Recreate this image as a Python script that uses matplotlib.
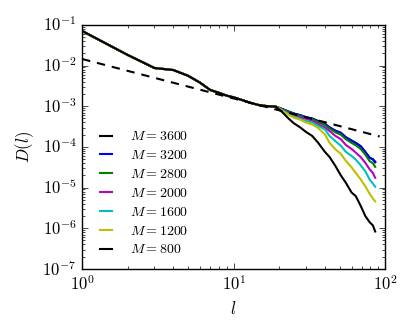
import numpy as np
import matplotlib
matplotlib.use("Agg")
import matplotlib.pyplot as plt
from matplotlib.ticker import LogFormatterMathtext

plt.style.use("classic")
plt.rcParams["mathtext.fontset"] = "cm"
plt.rcParams["font.family"] = "serif"
plt.rcParams["font.serif"] = ["cmr10", "DejaVu Serif"]
plt.rcParams["axes.formatter.use_mathtext"] = True

# separation l
l_vals = [1, 2, 3, 4, 5, 6, 7, 8, 9, 10, 11, 13, 15, 17, 19,
          21, 23, 25, 27.5, 30, 33, 36, 40, 43, 47, 51, 55, 60, 64, 69, 74, 79, 83, 86]

# log10 D(l) for each M
logD_3600 = [-1.15, -1.74, -2.06, -2.11, -2.25, -2.42, -2.60, -2.67, -2.74, -2.78, -2.83, -2.92, -2.98, -3.00, -3.01,
             -3.07, -3.13, -3.18, -3.22, -3.27, -3.30, -3.36, -3.43, -3.52, -3.60, -3.65, -3.76, -3.84, -3.90, -3.98, -4.12, -4.27, -4.30, -4.38]
logD_3200 = [-1.15, -1.74, -2.06, -2.11, -2.25, -2.42, -2.60, -2.67, -2.74, -2.78, -2.83, -2.92, -2.98, -3.00, -3.01,
             -3.07, -3.13, -3.18, -3.22, -3.27, -3.31, -3.37, -3.44, -3.52, -3.61, -3.66, -3.77, -3.85, -3.91, -3.99, -4.13, -4.26, -4.31, -4.36]
logD_2800 = [-1.15, -1.74, -2.06, -2.11, -2.25, -2.42, -2.60, -2.67, -2.74, -2.78, -2.83, -2.92, -2.98, -3.00, -3.01,
             -3.08, -3.14, -3.19, -3.24, -3.29, -3.32, -3.39, -3.46, -3.55, -3.64, -3.70, -3.81, -3.90, -3.96, -4.05, -4.19, -4.35, -4.40, -4.49]
logD_2000 = [-1.15, -1.74, -2.06, -2.11, -2.25, -2.42, -2.60, -2.67, -2.74, -2.78, -2.83, -2.92, -2.98, -3.00, -3.01,
             -3.09, -3.17, -3.23, -3.28, -3.31, -3.36, -3.44, -3.52, -3.61, -3.73, -3.81, -3.95, -4.05, -4.14, -4.25, -4.39, -4.55, -4.64, -4.76]
logD_1600 = [-1.15, -1.74, -2.06, -2.11, -2.25, -2.42, -2.60, -2.67, -2.74, -2.78, -2.83, -2.92, -2.98, -3.00, -3.01,
             -3.10, -3.19, -3.26, -3.31, -3.36, -3.40, -3.48, -3.57, -3.73, -3.86, -3.97, -4.12, -4.22, -4.31, -4.45, -4.60, -4.80, -4.90, -4.98]
logD_1200 = [-1.15, -1.74, -2.06, -2.11, -2.25, -2.42, -2.60, -2.67, -2.74, -2.78, -2.83, -2.92, -2.98, -3.00, -3.01,
             -3.11, -3.21, -3.28, -3.33, -3.40, -3.45, -3.53, -3.69, -3.90, -4.06, -4.17, -4.34, -4.50, -4.64, -4.80, -4.97, -5.15, -5.27, -5.34]
logD_800 = [-1.15, -1.74, -2.06, -2.11, -2.25, -2.42, -2.60, -2.67, -2.74, -2.78, -2.83, -2.92, -2.98, -3.00, -3.01,
            -3.15, -3.30, -3.42, -3.52, -3.63, -3.73, -3.89, -4.12, -4.25, -4.47, -4.70, -4.88, -5.12, -5.21, -5.45, -5.70, -5.85, -5.93, -6.08]

M_values = [3600, 3200, 2800, 2000, 1600, 1200, 800]
series = [logD_3600, logD_3200, logD_2800, logD_2000, logD_1600, logD_1200, logD_800]
colors = ["k", "b", "g", "m", "c", "y", "k"]

# reference power law (dashed)
ref_l = [1, 92]
ref_D = [0.0145, 0.0145 * 92 ** -0.97]

fig = plt.figure(figsize=(4.15, 3.32), dpi=100, facecolor="white")
ax = fig.add_axes([0.198, 0.19, 0.73, 0.735])
ax.set_facecolor("white")

l_arr = np.array(l_vals)
for M, s, c in zip(M_values, series, colors):
    ax.plot(l_arr, 10 ** np.array(s), color=c, lw=1.5, label=r"$M = %d$" % M)

ax.plot(ref_l, ref_D, "k--", lw=1.5, dashes=(6, 5))

ax.set_xscale("log")
ax.set_yscale("log")
ax.set_xlim(1, 100)
ax.set_ylim(1e-7, 1e-1)
ax.set_xlabel(r"$l$", fontsize=12)
ax.set_ylabel(r"$D(l)$", fontsize=12)
ax.xaxis.set_major_formatter(LogFormatterMathtext())
ax.yaxis.set_major_formatter(LogFormatterMathtext())
ax.tick_params(which="both", direction="in", top=True, right=True, labelsize=12)

leg = ax.legend(loc="lower left", frameon=False, fontsize=10,
                handlelength=1.45, handletextpad=1.0, labelspacing=0.42,
                bbox_to_anchor=(0.003, 0.0))

fig.savefig("out.png", dpi=100, facecolor="white")
